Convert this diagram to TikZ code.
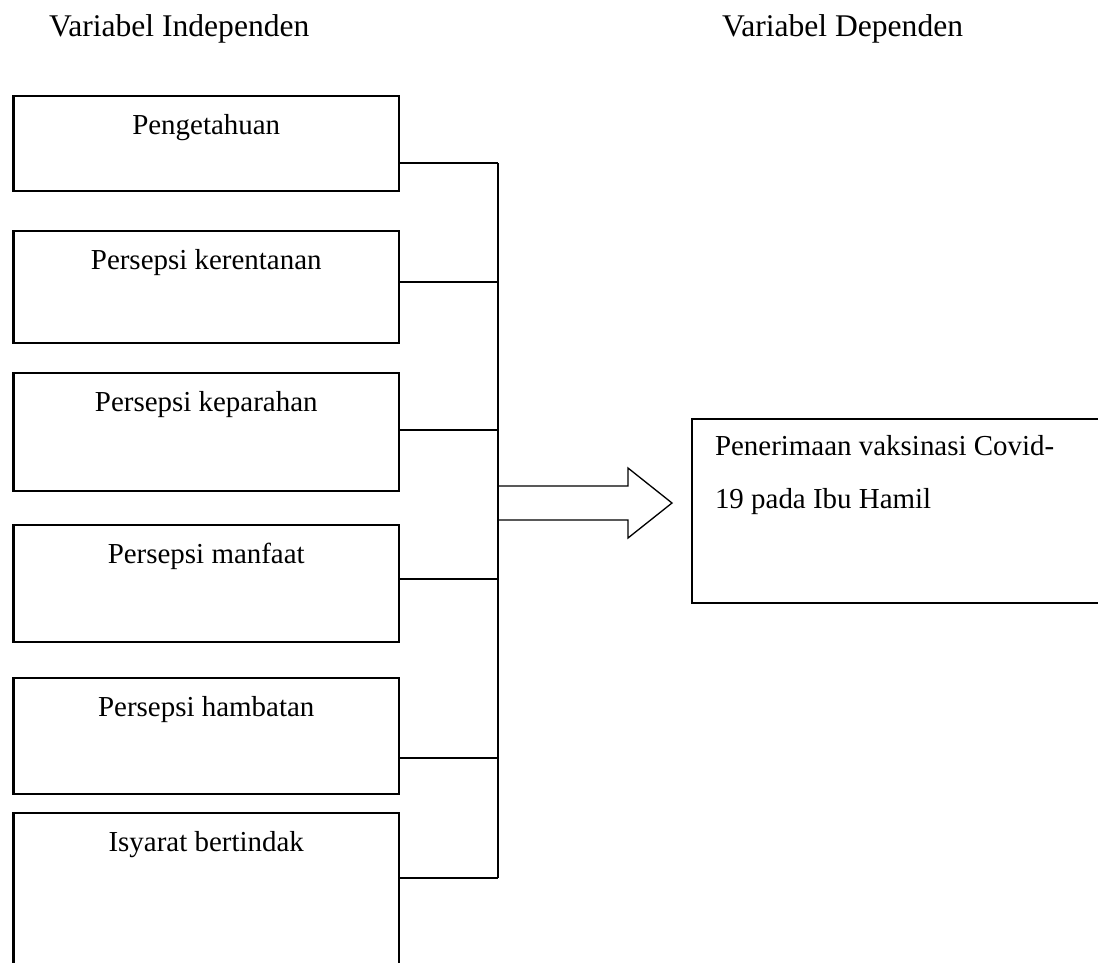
\documentclass[tikz,border=0pt]{standalone}
\usepackage{fontspec}
\setmainfont{Liberation Serif}
\begin{document}
\begin{tikzpicture}[x=0.38pt,y=-0.38pt,
  every node/.style={inner sep=0pt, outer sep=0pt},
  varbox/.style={draw, line width=0.8pt, anchor=north west, minimum width=385.5*0.38pt},
  boxtext/.style={anchor=base, font=\fontsize{11}{13}\selectfont},
  head/.style={anchor=base west, font=\fontsize{12}{14}\selectfont},
  wire/.style={line width=0.8pt},
  blockarrow/.style={draw, line width=0.5pt, line join=miter}]
\useasboundingbox (0,0) rectangle (1098,963);
\clip (0,0) rectangle (1098,963);

% column headings
\node[head] (hind) at (49,36) {Variabel Independen};
\node[head] (hdep) at (722,36) {Variabel Dependen};

% independent variables
\node[varbox, minimum height=95*0.38pt]  (b1) at (13.5,96)  {};
\node[varbox, minimum height=112*0.38pt] (b2) at (13.5,231) {};
\node[varbox, minimum height=118*0.38pt] (b3) at (13.5,373) {};
\node[varbox, minimum height=117*0.38pt] (b4) at (13.5,525) {};
\node[varbox, minimum height=116*0.38pt] (b5) at (13.5,678) {};
\node[varbox, minimum height=200*0.38pt] (b6) at (13.5,813) {};

\node[boxtext] (t1) at ([yshift=-38*0.38pt]b1.north) {Pengetahuan};
\node[boxtext] (t2) at ([yshift=-38*0.38pt]b2.north) {Persepsi kerentanan};
\node[boxtext] (t3) at ([yshift=-38*0.38pt]b3.north) {Persepsi keparahan};
\node[boxtext] (t4) at ([yshift=-38*0.38pt]b4.north) {Persepsi manfaat};
\node[boxtext] (t5) at ([yshift=-38*0.38pt]b5.north) {Persepsi hambatan};
\node[boxtext] (t6) at ([yshift=-38*0.38pt]b6.north) {Isyarat bertindak};

% junctions on the collecting bus
\coordinate (j1) at (498,163);
\coordinate (j2) at (498,282);
\coordinate (j3) at (498,430);
\coordinate (j4) at (498,579);
\coordinate (j5) at (498,758);
\coordinate (j6) at (498,878);

\draw[wire] (b1.east |- j1) -- (j1);
\draw[wire] (b2.east |- j2) -- (j2);
\draw[wire] (b3.east |- j3) -- (j3);
\draw[wire] (b4.east |- j4) -- (j4);
\draw[wire] (b5.east |- j5) -- (j5);
\draw[wire] (b6.east |- j6) -- (j6);
\draw[wire] (j1) -- (j6);

% dependent variable
\node[draw, line width=0.8pt, anchor=north west,
      minimum width=420*0.38pt, minimum height=184*0.38pt] (dv) at (692,419) {};
\node[anchor=base west, font=\fontsize{11}{13}\selectfont] (dv1)
  at ([xshift=23*0.38pt, yshift=-36*0.38pt]dv.north west) {Penerimaan vaksinasi Covid-};
\node[anchor=base west, font=\fontsize{11}{13}\selectfont] (dv2)
  at ([xshift=23*0.38pt, yshift=-89*0.38pt]dv.north west) {19 pada Ibu Hamil};

% block arrow from the bus to the dependent variable
\draw[blockarrow] (499,486) -- (628,486) -- (628,468) -- (672,503)
  -- (628,538) -- (628,520) -- (499,520);
\end{tikzpicture}
\end{document}
